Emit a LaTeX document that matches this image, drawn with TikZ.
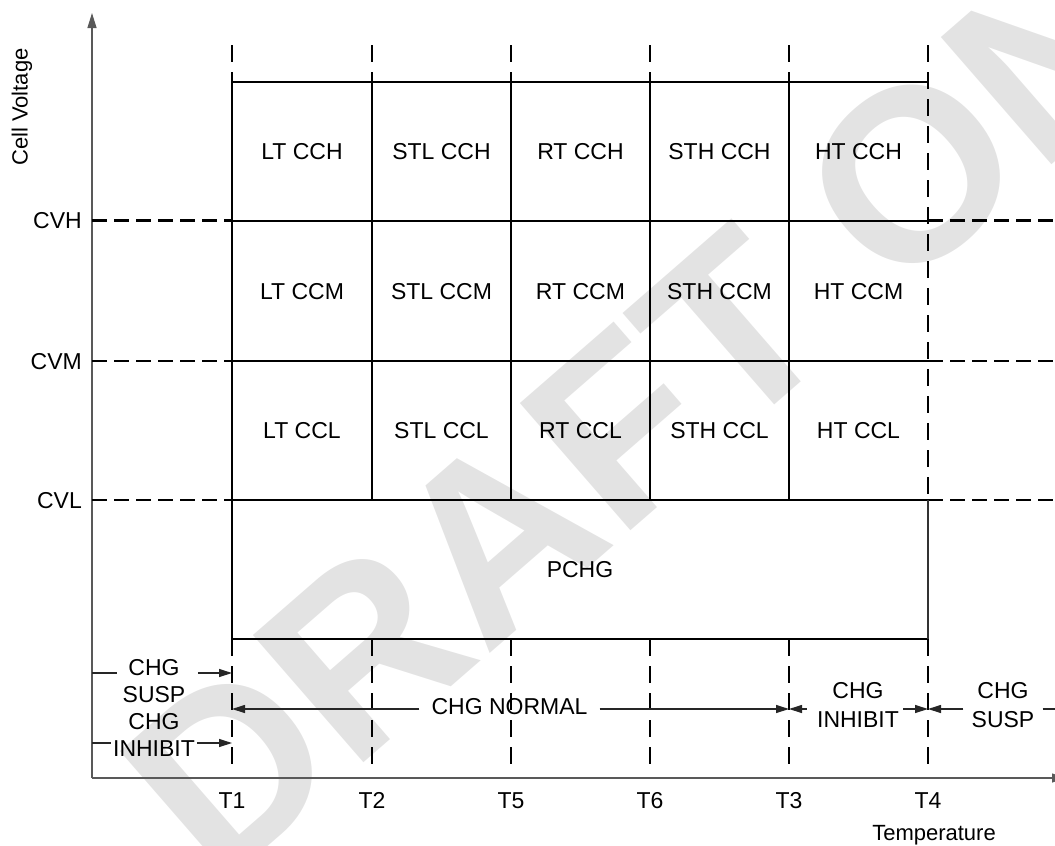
\documentclass[tikz,border=0pt]{standalone}
\usepackage{fontspec}
\setmainfont{Liberation Sans}
\usetikzlibrary{arrows.meta}
\begin{document}
\begin{tikzpicture}[x=1pt,y=-1pt,
  lbl/.style={font=\fontsize{23}{27}\selectfont, inner sep=0pt, text height=16.4pt, text depth=0pt},
  gridline/.style={line width=2.2pt, line cap=rect},
  vdash/.style={line width=2.8pt, dash pattern=on 17pt off 10pt},
  hdash/.style={line width=2.8pt, dash pattern=on 15pt off 7pt},
  axisline/.style={line width=1.3pt, black!65},
  arr/.style={line width=1.2pt, black!85},
  tip/.style={-{Triangle[length=13pt,width=8pt]}},
]
\useasboundingbox (0,0) rectangle (1055,846);
% watermark
\node[rotate=41, font=\fontsize{245}{245}\selectfont\bfseries, text=black!11] (wm) at (750,315) {DRAFT ONLY};

% column coordinates
\foreach \n/\x in {1/232,2/372,5/511,6/650,3/789,4/928} {
  \coordinate (top\n) at (\x,45);
  \coordinate (bt\n) at (\x,82);
  \coordinate (bl\n) at (\x,500);
  \coordinate (bb\n) at (\x,639);
  \coordinate (end\n) at (\x,772);
  \node[lbl] (T\n) at (\x,800) {T\n};
}
% axes
\coordinate (origin) at (92,778);
\coordinate (ytip) at (92,13);
\coordinate (xtip) at (1065,778);
\draw[axisline, -{Triangle[length=15pt,width=9pt]}] (origin) -- (ytip);
\draw[axisline, -{Triangle[length=13pt,width=9pt]}] (origin) -- (xtip);

% voltage levels
\foreach \nm/\y in {CVH/220.5,CVM/361,CVL/500} {
  \coordinate (l\nm) at (92,\y);
  \coordinate (r\nm) at (1055,\y);
  \node[lbl, anchor=east] (\nm) at (82,\y) {\nm};
  \draw[hdash] (l\nm) -- (l\nm -| bt1);
  \draw[hdash] (r\nm -| bt4) -- (r\nm);
}

% vertical dashed lines
\foreach \n in {1,2,5,6,3} {
  \draw[vdash] (top\n) -- (bt\n);
  \draw[vdash] (bb\n) -- (end\n);
}
\draw[vdash] (top4) -- (bl4);
\draw[vdash] (bb4) -- (end4);

% grid
\draw[gridline] (bt1) -- (bt4);
\draw[gridline] (232,221) -- (928,221);
\draw[gridline] (232,361) -- (928,361);
\draw[gridline] (bl1) -- (bl4);
\draw[gridline] (bb1) -- (bb4);
\draw[gridline] (bt1) -- (bb1);
\foreach \n in {2,5,6,3} { \draw[gridline] (bt\n) -- (bl\n); }
\draw[line width=1.3pt, black!80] (bl4) -- (bb4);

% cell labels
\foreach \r/\y in {H/151.5,M/291,L/430.5} {
  \node[lbl] (LT\r) at (302,\y) {LT CC\r};
  \node[lbl] (STL\r) at (441.5,\y) {STL CC\r};
  \node[lbl] (RT\r) at (580.5,\y) {RT CC\r};
  \node[lbl] (STH\r) at (719.5,\y) {STH CC\r};
  \node[lbl] (HT\r) at (858.5,\y) {HT CC\r};
}
\node[lbl] (pchg) at (580,569.5) {PCHG};

% axis titles
\node[rotate=90, font=\fontsize{22}{26}\selectfont, inner sep=0pt] (cv) at (22,107) {Cell Voltage};
\node[font=\fontsize{22}{26}\selectfont, inner sep=0pt, anchor=base] (temp) at (934,840) {Temperature};

% left region labels
\node[lbl] (chgA) at (154,667.5) {CHG};
\node[lbl] (suspA) at (154,694) {SUSP};
\node[lbl] (chgB) at (154,721) {CHG};
\node[lbl] (inhA) at (154,748.5) {INHIBIT};
\coordinate (a1) at (92,673);
\coordinate (a2) at (92,743);
\draw[arr, shorten >=11pt] (a1) -- (a1 -| chgA.west);
\draw[arr, tip, shorten <=18pt] (a1 -| chgA.east) -- (a1 -| top1);
\draw[arr, shorten >=2pt] (a2) -- (a2 -| inhA.west);
\draw[arr, tip, shorten <=2pt] (a2 -| inhA.east) -- (a2 -| top1);

% CHG NORMAL
\coordinate (n1) at (232,709);
\node[lbl] (norm) at (509.5,706.5) {CHG NORMAL};
\draw[arr, tip, shorten <=12pt] (n1 -| norm.west) -- (n1);
\draw[arr, tip, shorten <=12pt] (n1 -| norm.east) -- (n1 -| top3);

% CHG INHIBIT (right)
\node[lbl] (chgC) at (858,690.5) {CHG};
\node[lbl] (inhB) at (858,719.5) {INHIBIT};
\draw[arr, tip, shorten <=10pt] (n1 -| inhB.west) -- (n1 -| top3);
\draw[arr, tip, shorten <=4pt] (n1 -| inhB.east) -- (n1 -| top4);

% CHG SUSP (right)
\node[lbl] (chgD) at (1003,690.5) {CHG};
\node[lbl] (suspB) at (1003,719.5) {SUSP};
\coordinate (redge) at (1055,709);
\draw[arr, tip, shorten <=8pt] (n1 -| suspB.west) -- (n1 -| top4);
\draw[arr, shorten <=8pt] (n1 -| suspB.east) -- (redge);
\end{tikzpicture}
\end{document}
